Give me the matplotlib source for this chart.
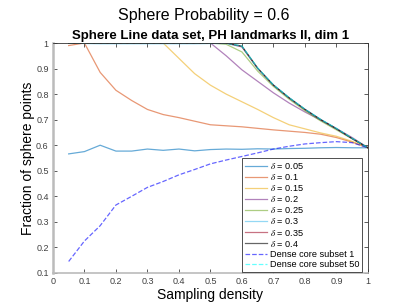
import matplotlib
matplotlib.use("Agg")
import matplotlib.pyplot as plt

plt.rcParams['font.family'] = ['Liberation Sans', 'DejaVu Sans']
plt.rcParams['mathtext.fontset'] = 'stix'

density = [0.05, 0.1, 0.15, 0.2, 0.25, 0.3, 0.35, 0.4, 0.45, 0.5,
           0.55, 0.6, 0.65, 0.7, 0.75, 0.8, 0.85, 0.9, 0.95, 1.0]

d005 = [0.566, 0.575, 0.600, 0.577, 0.577, 0.585, 0.580, 0.585, 0.578, 0.583,
        0.585, 0.584, 0.586, 0.585, 0.587, 0.588, 0.590, 0.591, 0.590, 0.590]
d010 = [0.990, 1.000, 0.885, 0.815, 0.775, 0.740, 0.720, 0.708, 0.694, 0.680,
        0.676, 0.672, 0.666, 0.660, 0.655, 0.650, 0.643, 0.630, 0.612, 0.590]
d015 = [1.0, 1.0, 1.0, 1.0, 1.0, 1.0, 1.0, 0.940, 0.880, 0.835,
        0.800, 0.770, 0.740, 0.708, 0.680, 0.664, 0.648, 0.635, 0.615, 0.590]
d020 = [1.0, 1.0, 1.0, 1.0, 1.0, 1.0, 1.0, 1.0, 1.0, 1.0,
        0.950, 0.895, 0.850, 0.805, 0.765, 0.730, 0.698, 0.665, 0.630, 0.590]
d025 = [1.0, 1.0, 1.0, 1.0, 1.0, 1.0, 1.0, 1.0, 1.0, 1.0,
        0.995, 0.965, 0.890, 0.830, 0.780, 0.735, 0.695, 0.660, 0.625, 0.590]
d030 = [1.0, 0.998, 0.997, 0.997, 0.997, 0.997, 0.997, 0.997, 0.997, 0.998,
        0.998, 0.985, 0.900, 0.836, 0.786, 0.741, 0.701, 0.665, 0.627, 0.590]
d035 = [1.0, 1.0, 1.0, 1.0, 1.0, 1.0, 1.0, 1.0, 1.0, 1.0,
        1.0, 0.985, 0.900, 0.835, 0.785, 0.740, 0.700, 0.665, 0.626, 0.590]
d040 = [1.0, 1.0, 1.0, 1.0, 1.0, 1.0, 1.0, 1.0, 1.0, 1.0,
        1.0, 0.988, 0.902, 0.835, 0.785, 0.740, 0.700, 0.664, 0.626, 0.590]
core1 = [0.145, 0.225, 0.285, 0.366, 0.400, 0.435, 0.458, 0.484, 0.505, 0.527,
         0.542, 0.556, 0.570, 0.585, 0.596, 0.605, 0.610, 0.614, 0.610, 0.590]
core50 = [1.0, 1.0, 1.0, 1.0, 1.0, 1.0, 1.0, 1.0, 1.0, 1.0,
          1.0, 0.988, 0.902, 0.836, 0.786, 0.741, 0.701, 0.666, 0.627, 0.590]

series = [
    (d005, r'$\delta$ = 0.05', '#0072BD', '-'),
    (d010, r'$\delta$ = 0.1', '#D95319', '-'),
    (d015, r'$\delta$ = 0.15', '#EDB120', '-'),
    (d020, r'$\delta$ = 0.2', '#7E2F8E', '-'),
    (d025, r'$\delta$ = 0.25', '#77AC30', '-'),
    (d030, r'$\delta$ = 0.3', '#4DBEEE', '-'),
    (d035, r'$\delta$ = 0.35', '#A2142F', '-'),
    (d040, r'$\delta$ = 0.4', '#000000', '-'),
    (core1, 'Dense core subset 1', '#0000FF', '--'),
    (core50, 'Dense core subset 50', '#00FFFF', '--'),
]

fig = plt.figure(figsize=(4.07, 3.05), dpi=100)
ax = fig.add_axes([0.130, 0.105, 0.774, 0.754])

for vals, lab, col, ls in series:
    ax.plot(density, vals, ls, color=col, alpha=0.6, lw=0.9, label=lab)

ax.set_xlim(0, 1)
ax.set_ylim(0.1, 1)
ax.set_xticks([0, 0.1, 0.2, 0.3, 0.4, 0.5, 0.6, 0.7, 0.8, 0.9, 1])
ax.set_xticklabels(['0', '0.1', '0.2', '0.3', '0.4', '0.5', '0.6', '0.7', '0.8', '0.9', '1'])
ax.set_yticks([0.1, 0.2, 0.3, 0.4, 0.5, 0.6, 0.7, 0.8, 0.9, 1])
ax.set_yticklabels(['0.1', '0.2', '0.3', '0.4', '0.5', '0.6', '0.7', '0.8', '0.9', '1'])
ax.tick_params(direction='in', length=3, width=0.6, labelsize=6.5, colors='#404040',
               top=True, right=True, pad=3)
for s in ax.spines.values():
    s.set_color('#333333')
    s.set_linewidth(0.6)
ax.spines['left'].set_color('#bbbbbb')
ax.spines['left'].set_linewidth(1.8)
ax.spines['bottom'].set_color('#bbbbbb')
ax.spines['bottom'].set_linewidth(1.2)

ax.set_xlabel('Sampling density', fontsize=10, labelpad=1)
ax.set_ylabel('Fraction of sphere points', fontsize=10, labelpad=1)
ax.set_title('Sphere Line data set, PH landmarks II, dim 1', fontsize=9.5,
             fontweight='bold', pad=3)
fig.suptitle('Sphere Probability = 0.6', fontsize=11.5, y=0.975)

leg = ax.legend(loc='lower right', bbox_to_anchor=(0.981, 0.006), borderaxespad=0,
                fontsize=6.6, handlelength=2.4, handletextpad=0.3,
                labelspacing=0.12, borderpad=0.3, fancybox=False, framealpha=1)
leg.get_frame().set_edgecolor('#333333')
leg.get_frame().set_linewidth(0.6)

fig.savefig('out.png', dpi=100)
